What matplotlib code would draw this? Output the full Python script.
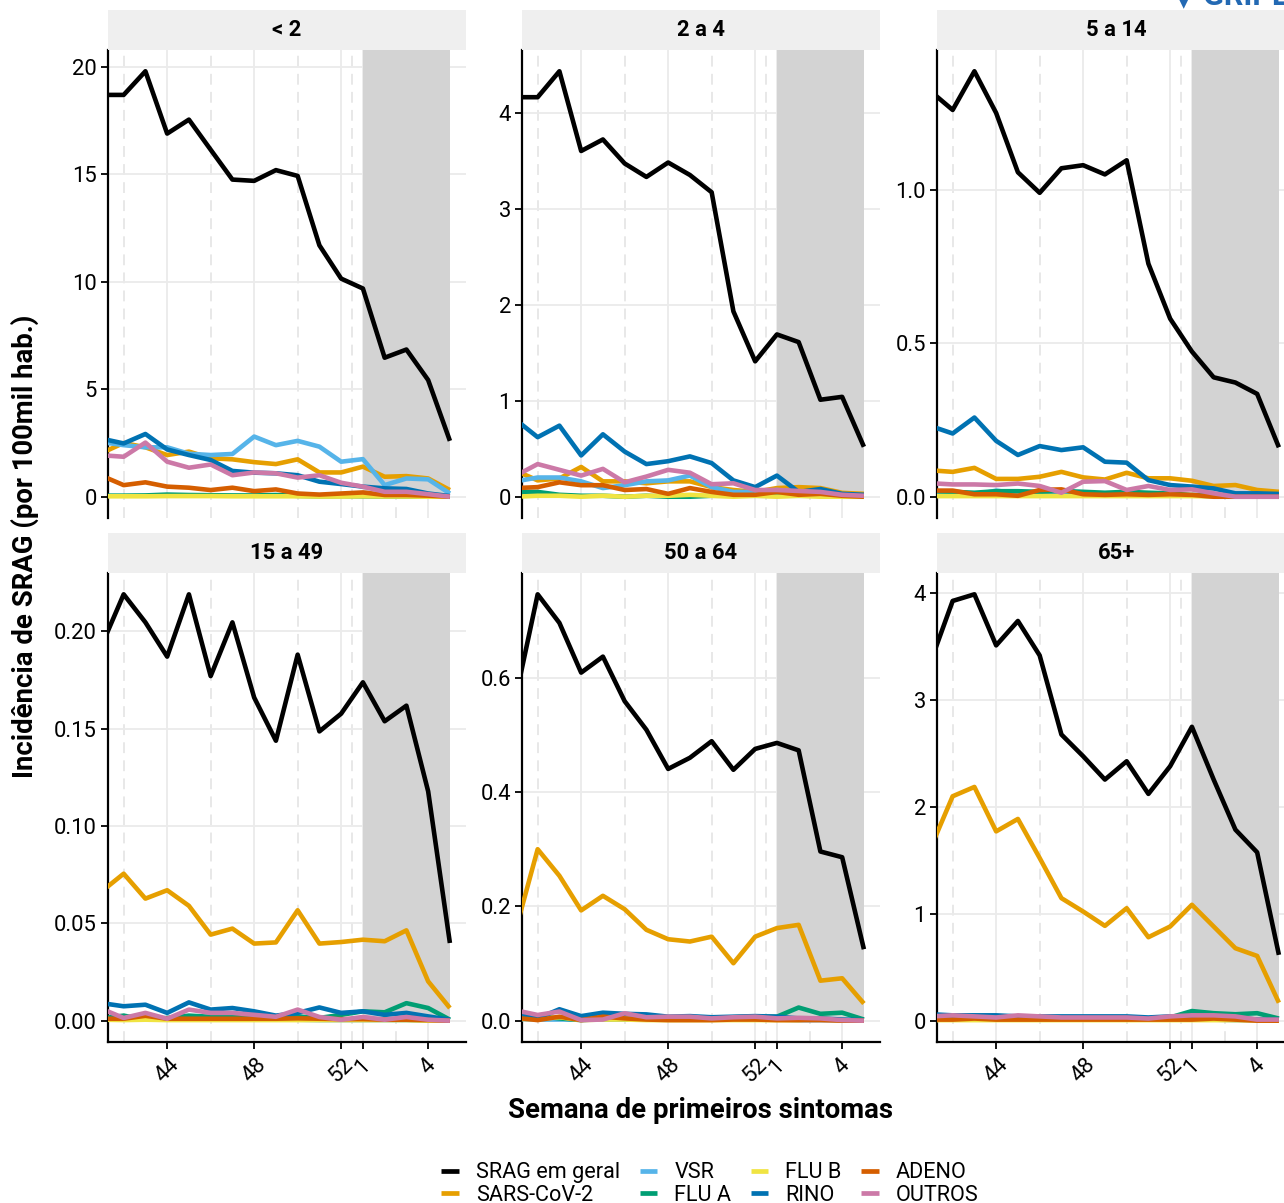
import matplotlib
matplotlib.use("Agg")
import matplotlib.pyplot as plt
from matplotlib.lines import Line2D
import numpy as np

plt.rcParams['font.family'] = ['Roboto', 'DejaVu Sans']

# ---------------- data ----------------
weeks = [41, 42, 43, 44, 45, 46, 47, 48, 49, 50, 51, 52, 1, 2, 3, 4, 5]
tick_weeks = [44, 48, 52, 1, 4]
shade_start_week = 1

series_names = ["SRAG em geral", "SARS-CoV-2", "VSR", "FLU A", "FLU B", "RINO", "ADENO", "OUTROS"]
series_colors = ["#000000", "#E69F00", "#56B4E9", "#009E73", "#F0E442", "#0072B2", "#D55E00", "#CC79A7"]

panel_titles = ["< 2", "2 a 4", "5 a 14", "15 a 49", "50 a 64", "65+"]

# age group "< 2"
p1_srag = [18.7, 18.7, 19.8, 16.9, 17.55, 16.15, 14.76, 14.7, 15.2, 14.93, 11.7, 10.15, 9.69, 6.47, 6.85, 5.43, 2.6]
p1_sars = [2.04, 2.5, 2.3, 1.94, 2.1, 1.79, 1.74, 1.61, 1.52, 1.74, 1.13, 1.13, 1.4, 0.93, 0.96, 0.85, 0.31]
p1_vsr = [2.54, 2.4, 2.3, 2.3, 2.0, 1.94, 1.99, 2.8, 2.4, 2.6, 2.33, 1.63, 1.75, 0.54, 0.85, 0.81, 0.15]
p1_flua = [0.05, 0.05, 0.06, 0.1, 0.08, 0.07, 0.06, 0.06, 0.08, 0.04, 0.02, 0.03, 0.02, 0.01, 0.01, 0.01, 0.0]
p1_flub = [0.02, 0.02, 0.02, 0.03, 0.03, 0.03, 0.02, 0.02, 0.02, 0.02, 0.01, 0.01, 0.02, 0.01, 0.01, 0.0, 0.0]
p1_rino = [2.7, 2.48, 2.92, 2.2, 1.94, 1.71, 1.2, 1.12, 1.09, 1.0, 0.7, 0.59, 0.47, 0.39, 0.36, 0.15, 0.03]
p1_adeno = [0.97, 0.54, 0.67, 0.47, 0.42, 0.31, 0.42, 0.26, 0.34, 0.15, 0.1, 0.15, 0.2, 0.08, 0.08, 0.05, 0.0]
p1_outros = [1.93, 1.86, 2.52, 1.63, 1.35, 1.5, 1.0, 1.13, 1.09, 0.89, 1.0, 0.65, 0.47, 0.23, 0.23, 0.12, 0.0]

# age group "2 a 4"
p2_srag = [4.16, 4.16, 4.43, 3.60, 3.72, 3.47, 3.33, 3.48, 3.35, 3.17, 1.93, 1.41, 1.69, 1.61, 1.01, 1.04, 0.52]
p2_sars = [0.27, 0.17, 0.19, 0.31, 0.16, 0.16, 0.14, 0.16, 0.16, 0.10, 0.07, 0.05, 0.09, 0.10, 0.09, 0.04, 0.03]
p2_vsr = [0.16, 0.2, 0.2, 0.16, 0.09, 0.12, 0.16, 0.17, 0.22, 0.10, 0.05, 0.05, 0.07, 0.05, 0.05, 0.02, 0.01]
p2_flua = [0.05, 0.05, 0.02, 0.01, 0.01, 0.0, 0.01, 0.0, 0.0, 0.01, 0.01, 0.01, 0.01, 0.01, 0.01, 0.0, 0.0]
p2_flub = [0.0, 0.01, 0.01, 0.0, 0.01, 0.0, 0.01, 0.01, 0.02, 0.01, 0.0, 0.01, 0.0, 0.01, 0.0, 0.0, 0.0]
p2_rino = [0.8, 0.62, 0.74, 0.43, 0.65, 0.47, 0.34, 0.37, 0.42, 0.35, 0.17, 0.10, 0.22, 0.05, 0.08, 0.03, 0.02]
p2_adeno = [0.09, 0.10, 0.15, 0.12, 0.12, 0.07, 0.08, 0.03, 0.09, 0.05, 0.02, 0.02, 0.05, 0.02, 0.03, 0.01, 0.0]
p2_outros = [0.22, 0.34, 0.28, 0.22, 0.29, 0.15, 0.21, 0.28, 0.25, 0.13, 0.14, 0.07, 0.07, 0.06, 0.05, 0.02, 0.01]

# age group "5 a 14"
p3_srag = [1.32, 1.26, 1.386, 1.25, 1.057, 0.99, 1.07, 1.08, 1.05, 1.096, 0.759, 0.58, 0.473, 0.389, 0.372, 0.335, 0.161]
p3_sars = [0.086, 0.081, 0.094, 0.058, 0.058, 0.065, 0.081, 0.063, 0.056, 0.078, 0.06, 0.06, 0.052, 0.035, 0.038, 0.022, 0.016]
p3_vsr = [0.01, 0.005, 0.005, 0.02, 0.01, 0.01, 0.01, 0.005, 0.005, 0.005, 0.005, 0.005, 0.005, 0.0, 0.0, 0.0, 0.0]
p3_flua = [0.018, 0.016, 0.013, 0.018, 0.018, 0.016, 0.019, 0.016, 0.013, 0.016, 0.013, 0.011, 0.005, 0.005, 0.005, 0.005, 0.005]
p3_flub = [0.002, 0.002, 0.002, 0.002, 0.002, 0.002, 0.002, 0.002, 0.002, 0.002, 0.002, 0.002, 0.002, 0.001, 0.001, 0.001, 0.001]
p3_rino = [0.23, 0.206, 0.258, 0.182, 0.136, 0.165, 0.152, 0.161, 0.114, 0.111, 0.054, 0.038, 0.033, 0.027, 0.011, 0.011, 0.009]
p3_adeno = [0.02, 0.02, 0.008, 0.008, 0.003, 0.022, 0.024, 0.008, 0.006, 0.008, 0.006, 0.008, 0.006, 0.0, 0.0, 0.0, 0.0]
p3_outros = [0.044, 0.04, 0.04, 0.038, 0.043, 0.035, 0.013, 0.049, 0.051, 0.022, 0.035, 0.022, 0.024, 0.011, 0.0, 0.0, 0.0]

# age group "15 a 49"
p4_srag = [0.193, 0.219, 0.2046, 0.187, 0.219, 0.177, 0.2046, 0.166, 0.1438, 0.188, 0.1486, 0.1577, 0.1738, 0.1538, 0.1618, 0.1178, 0.0399]
p4_sars = [0.0665, 0.0755, 0.0627, 0.067, 0.059, 0.0442, 0.0473, 0.0396, 0.0402, 0.0567, 0.0396, 0.0404, 0.0416, 0.0408, 0.0464, 0.0202, 0.0065]
p4_vsr = [0.0008, 0.0005, 0.0005, 0.0005, 0.0005, 0.0005, 0.0005, 0.0005, 0.0005, 0.0005, 0.0003, 0.0003, 0.0003, 0.0003, 0.0003, 0.0, 0.0]
p4_flua = [0.0012, 0.0026, 0.0005, 0.0014, 0.0026, 0.002, 0.002, 0.0014, 0.0014, 0.0022, 0.0014, 0.003, 0.0048, 0.0043, 0.009, 0.0065, 0.0005]
p4_flub = [0.0005, 0.0003, 0.0005, 0.0003, 0.0003, 0.0003, 0.0003, 0.0003, 0.0003, 0.0003, 0.0003, 0.0003, 0.0003, 0.0003, 0.0003, 0.0, 0.0]
p4_rino = [0.009, 0.0074, 0.0082, 0.004, 0.0094, 0.0057, 0.0065, 0.0048, 0.0026, 0.004, 0.0068, 0.004, 0.0048, 0.003, 0.004, 0.0022, 0.0005]
p4_adeno = [0.001, 0.001, 0.0025, 0.001, 0.001, 0.001, 0.001, 0.001, 0.001, 0.0012, 0.001, 0.0008, 0.0008, 0.0005, 0.0005, 0.0003, 0.0]
p4_outros = [0.006, 0.0014, 0.004, 0.001, 0.0057, 0.004, 0.004, 0.003, 0.002, 0.0057, 0.0019, 0.0005, 0.0019, 0.0005, 0.0019, 0.0005, 0.0]

# age group "50 a 64"
p5_srag = [0.567, 0.746, 0.696, 0.609, 0.637, 0.559, 0.509, 0.4405, 0.46, 0.489, 0.439, 0.4755, 0.486, 0.473, 0.296, 0.286, 0.125]
p5_sars = [0.16, 0.300, 0.2535, 0.193, 0.2185, 0.195, 0.159, 0.1425, 0.1385, 0.147, 0.1005, 0.147, 0.162, 0.1677, 0.070, 0.0742, 0.030]
p5_vsr = [0.003, 0.002, 0.002, 0.002, 0.002, 0.002, 0.002, 0.002, 0.002, 0.002, 0.002, 0.002, 0.002, 0.001, 0.001, 0.001, 0.0]
p5_flua = [0.01, 0.008, 0.004, 0.001, 0.003, 0.003, 0.004, 0.005, 0.006, 0.005, 0.006, 0.007, 0.007, 0.023, 0.012, 0.014, 0.002]
p5_flub = [0.003, 0.003, 0.006, 0.001, 0.002, 0.002, 0.001, 0.001, 0.001, 0.001, 0.001, 0.001, 0.001, 0.001, 0.004, 0.001, 0.0]
p5_rino = [0.012, 0.004, 0.02, 0.008, 0.014, 0.012, 0.011, 0.007, 0.008, 0.006, 0.007, 0.008, 0.007, 0.004, 0.004, 0.002, 0.001]
p5_adeno = [0.005, 0.001, 0.007, 0.001, 0.007, 0.004, 0.002, 0.001, 0.001, 0.001, 0.002, 0.002, 0.001, 0.001, 0.001, 0.0, 0.0]
p5_outros = [0.018, 0.01, 0.016, 0.001, 0.002, 0.013, 0.006, 0.007, 0.007, 0.004, 0.006, 0.007, 0.004, 0.005, 0.004, 0.001, 0.0]

# age group "65+"
p6_srag = [3.36, 3.922, 3.984, 3.507, 3.735, 3.413, 2.674, 2.471, 2.253, 2.424, 2.119, 2.378, 2.746, 2.253, 1.785, 1.573, 0.615]
p6_sars = [1.62, 2.097, 2.184, 1.769, 1.885, 1.52, 1.145, 1.02, 0.886, 1.051, 0.78, 0.88, 1.083, 0.88, 0.677, 0.605, 0.168]
p6_vsr = [0.01, 0.01, 0.01, 0.01, 0.01, 0.01, 0.01, 0.01, 0.01, 0.01, 0.01, 0.01, 0.01, 0.01, 0.005, 0.005, 0.0]
p6_flua = [0.02, 0.02, 0.02, 0.02, 0.02, 0.02, 0.02, 0.02, 0.03, 0.03, 0.02, 0.03, 0.09, 0.07, 0.06, 0.07, 0.02]
p6_flub = [0.005, 0.005, 0.005, 0.005, 0.005, 0.005, 0.005, 0.005, 0.005, 0.005, 0.005, 0.005, 0.005, 0.005, 0.005, 0.003, 0.0]
p6_rino = [0.06, 0.05, 0.05, 0.05, 0.04, 0.04, 0.04, 0.04, 0.04, 0.04, 0.03, 0.04, 0.04, 0.03, 0.03, 0.01, 0.01]
p6_adeno = [0.01, 0.01, 0.02, 0.01, 0.01, 0.01, 0.01, 0.01, 0.01, 0.01, 0.01, 0.01, 0.01, 0.02, 0.01, 0.0, 0.0]
p6_outros = [0.04, 0.05, 0.04, 0.03, 0.05, 0.04, 0.03, 0.03, 0.03, 0.03, 0.02, 0.04, 0.05, 0.05, 0.04, 0.01, 0.01]

panels_data = [
    [p1_srag, p1_sars, p1_vsr, p1_flua, p1_flub, p1_rino, p1_adeno, p1_outros],
    [p2_srag, p2_sars, p2_vsr, p2_flua, p2_flub, p2_rino, p2_adeno, p2_outros],
    [p3_srag, p3_sars, p3_vsr, p3_flua, p3_flub, p3_rino, p3_adeno, p3_outros],
    [p4_srag, p4_sars, p4_vsr, p4_flua, p4_flub, p4_rino, p4_adeno, p4_outros],
    [p5_srag, p5_sars, p5_vsr, p5_flua, p5_flub, p5_rino, p5_adeno, p5_outros],
    [p6_srag, p6_sars, p6_vsr, p6_flua, p6_flub, p6_rino, p6_adeno, p6_outros],
]

yticks_panels = [
    [0, 5, 10, 15, 20],
    [0, 1, 2, 3, 4],
    [0.0, 0.5, 1.0],
    [0.00, 0.05, 0.10, 0.15, 0.20],
    [0.0, 0.2, 0.4, 0.6],
    [0, 1, 2, 3, 4],
]
ytick_fmt = ["{:.0f}", "{:.0f}", "{:.1f}", "{:.2f}", "{:.1f}", "{:.0f}"]

# ---------------- layout ----------------
W, H = 1284, 1203
DPI = 100
fig = plt.figure(figsize=(W / DPI, H / DPI), dpi=DPI)
fig.patch.set_facecolor("white")


def rect(left, top, w, h):
    return [left / W, 1 - (top + h) / H, w / W, h / H]


col_left = [108, 522, 937]
panel_w = 358
row_top = [50, 573]
row_h = [468, 469]
strip_h = 40

TICK_FS = 15.8
STRIP_FS = 15.8
TITLE_FS = 19.8
LEG_FS = 15.6

x = np.arange(len(weeks))
major_idx = [weeks.index(w) for w in tick_weeks]
minor_idx = [major_idx[0] - 2] + [(a + b) / 2 for a, b in zip(major_idx[:-1], major_idx[1:])]
shade_x = [weeks.index(shade_start_week), len(weeks) - 1]
xlim = (0.28, len(weeks) - 1 + 0.74)

for p in range(6):
    r, c = divmod(p, 3)
    ax = fig.add_axes(rect(col_left[c], row_top[r], panel_w, row_h[r]))
    data = panels_data[p]
    allv = np.concatenate([np.asarray(s) for s in data])
    lo, hi = allv.min(), allv.max()
    pad = 0.05 * (hi - lo)
    ylim = (lo - pad, hi + pad)
    ax.set_ylim(ylim)
    ax.set_xlim(xlim)
    ax.set_facecolor("white")
    ax.set_axisbelow(True)

    ax.fill_between(shade_x, 0, ylim[1], color="#D3D3D3", lw=0, zorder=1)

    for vals, col in zip(data, series_colors):
        ax.plot(x, vals, color=col, lw=3.3, solid_capstyle="butt",
                solid_joinstyle="round", zorder=3)

    ax.set_xticks(major_idx)
    ax.set_xticks(minor_idx, minor=True)
    ax.grid(which="major", axis="both", color="#EBEBEB", lw=1.3, zorder=0)
    ax.grid(which="minor", axis="x", color="#E6E6E6", lw=1.3, ls=(0, (6, 4)), zorder=0)
    ax.tick_params(which="minor", length=0)

    yt = yticks_panels[p]
    ax.set_yticks(yt)
    ax.set_yticklabels([ytick_fmt[p].format(v) for v in yt])
    ax.tick_params(axis="y", length=5, width=1.3, color="black", labelsize=TICK_FS,
                   labelcolor="black", pad=3)

    for s in ["top", "right"]:
        ax.spines[s].set_visible(False)
    ax.spines["left"].set_linewidth(1.6)
    ax.spines["left"].set_color("black")
    if r == 0:
        ax.spines["bottom"].set_visible(False)
        ax.tick_params(axis="x", which="both", length=0, labelbottom=False)
    else:
        ax.spines["bottom"].set_linewidth(1.6)
        ax.spines["bottom"].set_color("black")
        ax.set_xticklabels([str(w) for w in tick_weeks], rotation=45,
                           ha="center", va="top")
        ax.tick_params(axis="x", length=5, width=1.3, color="black",
                       labelsize=TICK_FS, labelcolor="black", pad=4)

    # facet strip
    sax = fig.add_axes(rect(col_left[c], row_top[r] - strip_h, panel_w, strip_h))
    sax.set_facecolor("#EFEFEF")
    sax.set_xticks([])
    sax.set_yticks([])
    for s in sax.spines.values():
        s.set_visible(False)
    sax.text(0.5, 0.5, panel_titles[p], ha="center", va="center",
             fontsize=STRIP_FS, fontweight="bold", transform=sax.transAxes)

# axis titles
fig.text(25 / W, 1 - 546 / H, "Incidência de SRAG (por 100mil hab.)", rotation=90,
         ha="center", va="center", fontsize=TITLE_FS, fontweight="bold")
fig.text(701 / W, 1 - 1111 / H, "Semana de primeiros sintomas", ha="center",
         va="center", fontsize=TITLE_FS, fontweight="bold")

# legend
handles = [Line2D([0], [0], color=col, lw=3.4, solid_capstyle="butt") for col in series_colors]
fig.legend(handles, series_names, ncol=4, loc="center",
           bbox_to_anchor=(710 / W, 1 - 1184 / H), frameon=False, fontsize=LEG_FS,
           handlelength=0.8, handletextpad=0.8, columnspacing=0.9,
           labelspacing=0.05, borderpad=0.1)

# partial logo at the top right edge (cut by the image border, as in the original)
fig.text(1172 / W, 1 - 4 / H, "\u25BC GRIPE", ha="left", va="baseline",
         fontsize=22, fontweight="bold", color="#2369B3")

fig.savefig("out.png", dpi=DPI)
